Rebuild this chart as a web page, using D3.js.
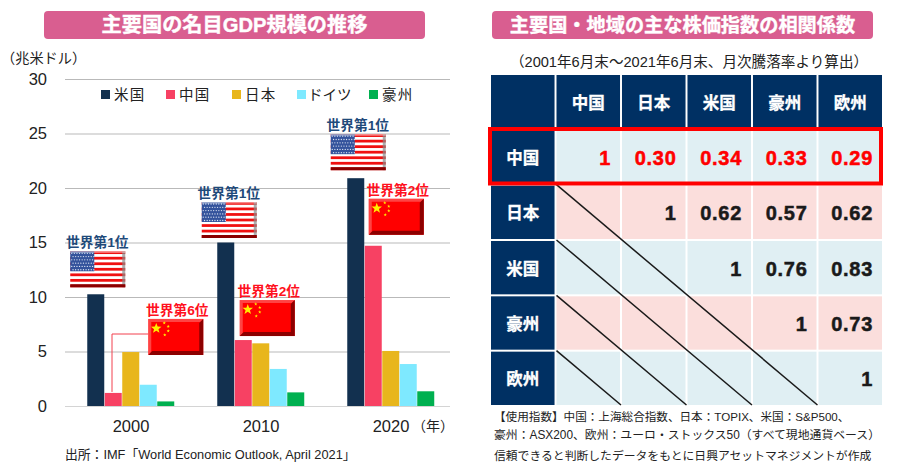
<!DOCTYPE html>
<html>
<head>
<meta charset="utf-8">
<script src="https://cdn.jsdelivr.net/npm/d3@7"></script>
<style>
body { margin: 0; background: #fff; }
text { font-family: "Liberation Sans", "Noto Sans CJK JP", sans-serif; }
</style>
</head>
<body>
<script>
// left chart data
var years = ["2000", "2010", "2020"]
var countries = ["米国", "中国", "日本", "ドイツ", "豪州"]
var colors = ["#12304f", "#f74163", "#e8b61c", "#7ee9ff", "#00b050"]
var usGdp = [10.25, 15.0, 20.9]
var chinaGdp = [1.2, 6.05, 14.7]
var japanGdp = [4.95, 5.75, 5.05]
var germanyGdp = [1.95, 3.4, 3.85]
var australiaGdp = [0.42, 1.25, 1.35]
var yTicks = [0, 5, 10, 15, 20, 25, 30]
var gdpSeries = [usGdp, chinaGdp, japanGdp, germanyGdp, australiaGdp]

// right table data
var rowNames = ["中国", "日本", "米国", "豪州", "欧州"]
var colNames = ["中国", "日本", "米国", "豪州", "欧州"]
var chinaRow = ["1", "0.30", "0.34", "0.33", "0.29"]
var japanRow = [null, "1", "0.62", "0.57", "0.62"]
var usRow = [null, null, "1", "0.76", "0.83"]
var ausRow = [null, null, null, "1", "0.73"]
var euroRow = [null, null, null, null, "1"]
var corr = [chinaRow, japanRow, usRow, ausRow, euroRow]

var NAVY = "#003063"
var svg = d3.select("body").append("svg").attr("width", 900).attr("height", 470)

function titleBar(x, w, label, size) {
	svg.append("rect").attr("x", x).attr("y", 11).attr("width", w).attr("height", 28)
		.attr("rx", 4).attr("fill", "#d95e90")
	svg.append("text").attr("x", x + w / 2).attr("y", 32).attr("text-anchor", "middle")
		.attr("font-size", size).attr("font-weight", "bold").attr("fill", "#fff")
		.attr("stroke", "#fff").attr("stroke-width", 0.4).text(label)
}
titleBar(44, 381, "主要国の名目GDP規模の推移", 20.2)
titleBar(492, 381, "主要国・地域の主な株価指数の相関係数", 19.2)

//--- bar chart
var y = d3.scaleLinear().domain([0, 30]).range([406, 79])
var x0 = d3.scaleBand().domain(years).range([66, 456]).paddingInner(0.327).paddingOuter(0.1635)
var x1 = d3.scaleBand().domain(countries).range([0, x0.bandwidth()])

var yAxis = d3.axisLeft(y).tickValues(yTicks).tickSize(-385).tickPadding(18)
var gy = svg.append("g").attr("transform", "translate(65,0)").call(yAxis)
gy.select(".domain").remove()
gy.selectAll("line").attr("stroke", function(d) { return d === 0 ? "#d4d4d4" : "#b9b9b9" }).attr("stroke-width", 1.2)
gy.selectAll("text").attr("font-size", 16.5).attr("fill", "#222")

var xAxis = d3.axisBottom(x0).tickSize(0).tickPadding(14)
var gx = svg.append("g").attr("transform", "translate(0,406)").call(xAxis)
gx.select(".domain").remove()
gx.selectAll("text").attr("font-size", 16.5).attr("fill", "#222")

svg.append("text").attr("x", 1).attr("y", 63).attr("font-size", 14.2).attr("fill", "#222").text("（兆米ドル）")
svg.append("text").attr("x", 412).attr("y", 431).attr("font-size", 14).attr("fill", "#222").text("（年）")
svg.append("text").attr("x", 65).attr("y", 459).attr("font-size", 12.8).attr("fill", "#222")
	.text("出所：IMF「World Economic Outlook, April 2021」")

countries.forEach(function(c, s) {
	svg.append("g").selectAll("rect")
		.data(gdpSeries[s])
		.enter()
		.append("rect")
		.attr("x", function(d, i) { return x0(years[i]) + x1(c) })
		.attr("y", function(d) { return y(d) })
		.attr("width", x1.bandwidth() - 0.5)
		.attr("height", function(d) { return y(0) - y(d) })
		.attr("fill", colors[s])
})

// legend
var legX = d3.scaleOrdinal().domain(countries).range([101, 166, 232, 297, 369])
countries.forEach(function(c, s) {
	var lx = legX(c)
	svg.append("rect").attr("x", lx).attr("y", 90).attr("width", 9).attr("height", 9).attr("fill", colors[s])
	svg.append("text").attr("x", lx + (s === 3 ? 11 : 13)).attr("y", 100).attr("font-size", 14.5)
		.attr("letter-spacing", s === 3 ? 0 : 1.2).attr("fill", "#222").text(c)
})

// flags, placed relative to the bar they belong to
function bevel(g, w, h, light, dark) {
	g.append("path").attr("d", "M0,0H" + w + "L" + (w - 3) + ",3H3V" + (h - 3) + "L0," + h + "Z").attr("fill", light).attr("opacity", 0.55)
	g.append("path").attr("d", "M" + w + ",0V" + h + "H0L4," + (h - 4) + "H" + (w - 4) + "V4Z").attr("fill", dark)
}

function usFlag(px, py) {
	var w = 55, h = 36
	var g = svg.append("g").attr("transform", "translate(" + px + "," + py + ")")
	g.append("rect").attr("width", w).attr("height", h).attr("fill", "#fff")
	d3.range(7).forEach(function(i) {
		g.append("rect").attr("y", i * h / 6.5).attr("width", w).attr("height", h / 13).attr("fill", "#f01010")
	})
	g.append("rect").attr("width", 24).attr("height", 20).attr("fill", "#34539c")
	d3.range(6).forEach(function(r) {
		d3.range(9).forEach(function(c) {
			g.append("circle").attr("cx", 1.5 + c * 2.6 + (r % 2) * 1.3).attr("cy", 2 + r * 3.3).attr("r", 0.65).attr("fill", "#dfe6f4")
		})
	})
	g.append("rect").attr("x", w - 3).attr("width", 3).attr("height", h).attr("fill", "#8a8a8a").attr("opacity", 0.7)
	g.append("rect").attr("y", h - 3).attr("width", w).attr("height", 3).attr("fill", "#8a0000")
	g.append("rect").attr("width", w).attr("height", 1.5).attr("fill", "#fff").attr("opacity", 0.5)
}

function star(g, cx, cy, r) {
	var pts = d3.range(10).map(function(i) {
		var a = -Math.PI / 2 + i * Math.PI / 5, rr = i % 2 ? r * 0.42 : r
		return [cx + rr * Math.cos(a), cy + rr * Math.sin(a)]
	})
	g.append("polygon").attr("points", pts.join(" ")).attr("fill", "#ffee00")
}

function cnFlag(px, py) {
	var w = 55, h = 36
	var g = svg.append("g").attr("transform", "translate(" + px + "," + py + ")")
	g.append("rect").attr("width", w).attr("height", h).attr("fill", "#ff0000")
	bevel(g, w, h, "#ff7a7a", "#8c0000")
	star(g, 8, 9.5, 5.5)
	star(g, 16, 4, 1.7)
	star(g, 20, 7.5, 1.7)
	star(g, 20, 12, 1.7)
	star(g, 16.5, 16, 1.7)
}

function rank(cx, yy, label, col) {
	svg.append("text").attr("x", cx).attr("y", yy).attr("text-anchor", "middle").attr("font-size", 13.7)
		.attr("font-weight", "bold").attr("fill", col).text(label)
}

years.forEach(function(yr, i) {
	var ux = x0(yr) + [-17, -15.5, -16.5][i], uy = y(usGdp[i]) + [-43, -40.5, -44][i]
	usFlag(ux, uy)
	rank(ux + 27, uy - 4, "世界第1位", "#1f4a7a")
	var cx = x0(yr) + [61, 22.5, 21.5][i], cy = y(chinaGdp[i]) + [-74, -40, -47][i]
	cnFlag(cx, cy)
	rank(cx + 29, cy - 4, ["世界第6位", "世界第2位", "世界第2位"][i], "#ff1020")
})

// leader from the 2000 China flag down to its bar
var lx0 = x0("2000") + x1("中国") + x1.bandwidth() / 2 - 1.5
svg.append("path").attr("fill", "none").attr("stroke", "#f2404f").attr("stroke-width", 1)
	.attr("d", "M" + lx0 + "," + (y(chinaGdp[0]) - 1) + "V334H" + (x0("2000") + 61))

//--- correlation table
var tableCols = [""].concat(colNames)
var cx = d3.scaleBand().domain(d3.range(6)).range([491, 882]).paddingInner(0.03)
var cy = d3.scaleBand().domain(d3.range(6)).range([75, 405]).paddingInner(0.036)

svg.append("text").attr("x", 689).attr("y", 67).attr("text-anchor", "middle").attr("font-size", 14.6)
	.attr("fill", "#222").text("（2001年6月末～2021年6月末、月次騰落率より算出）")

function headLabel(xx, yy, label) {
	svg.append("text").attr("x", xx).attr("y", yy)
		.attr("text-anchor", "middle").attr("font-size", 16.5).attr("font-weight", "bold").attr("fill", "#fff")
		.attr("stroke", "#fff").attr("stroke-width", 0.3).text(label)
}

svg.append("g").selectAll("rect").data(tableCols).enter().append("rect")
	.attr("x", function(d, i) { return cx(i) }).attr("y", cy(0))
	.attr("width", cx.bandwidth()).attr("height", cy.bandwidth()).attr("fill", NAVY)
colNames.forEach(function(c, i) {
	headLabel(cx(i + 1) + cx.bandwidth() / 2, cy(0) + cy.bandwidth() / 2 + 7, c)
})

rowNames.forEach(function(r, ri) {
	var top = cy(ri + 1)
	svg.append("rect").attr("x", cx(0)).attr("y", top).attr("width", cx.bandwidth()).attr("height", cy.bandwidth()).attr("fill", NAVY)
	headLabel(cx(0) + cx.bandwidth() / 2, top + cy.bandwidth() / 2 + 7, r)
	corr[ri].forEach(function(v, ci) {
		svg.append("rect").attr("x", cx(ci + 1)).attr("y", top).attr("width", cx.bandwidth()).attr("height", cy.bandwidth())
			.attr("fill", ri % 2 ? "#fbdedc" : "#e0eff3")
		if (v !== null) {
			var col = ri === 0 ? "#ff0000" : "#1a1a1a"
			svg.append("text").attr("x", cx(ci + 1) + cx.bandwidth() - 9).attr("y", top + cy.bandwidth() / 2 + 8)
				.attr("text-anchor", "end").attr("font-size", 20).attr("font-weight", "bold")
				.attr("letter-spacing", 0.7).attr("stroke", col).attr("stroke-width", 0.5)
				.attr("fill", col).text(v)
		}
	})
})

// diagonals through the empty lower triangle
d3.range(1, 5).forEach(function(ri) {
	svg.append("line")
		.attr("x1", cx(1)).attr("y1", cy(ri + 1) - 1)
		.attr("x2", cx(5 - ri + 1) - 1).attr("y2", cy(5) + cy.bandwidth())
		.attr("stroke", "#1a1a1a").attr("stroke-width", 1.5)
})

// highlight around the China row
svg.append("rect").attr("x", 490).attr("y", 129).attr("width", 391).attr("height", 54.5)
	.attr("fill", "none").attr("stroke", "#ff0000").attr("stroke-width", 4)

var notes = [["【使用指数】中国：上海総合指数、日本：TOPIX、米国：S&P500、", 421, 11.6], ["豪州：ASX200、欧州：ユーロ・ストックス50（すべて現地通貨ベース）", 439, 11.85], ["信頼できると判断したデータをもとに日興アセットマネジメントが作成", 460, 11.82]]
notes.forEach(function(n) {
	svg.append("text").attr("x", 494).attr("y", n[1]).attr("font-size", n[2]).attr("fill", "#222").text(n[0])
})
</script>
</body>
</html>
